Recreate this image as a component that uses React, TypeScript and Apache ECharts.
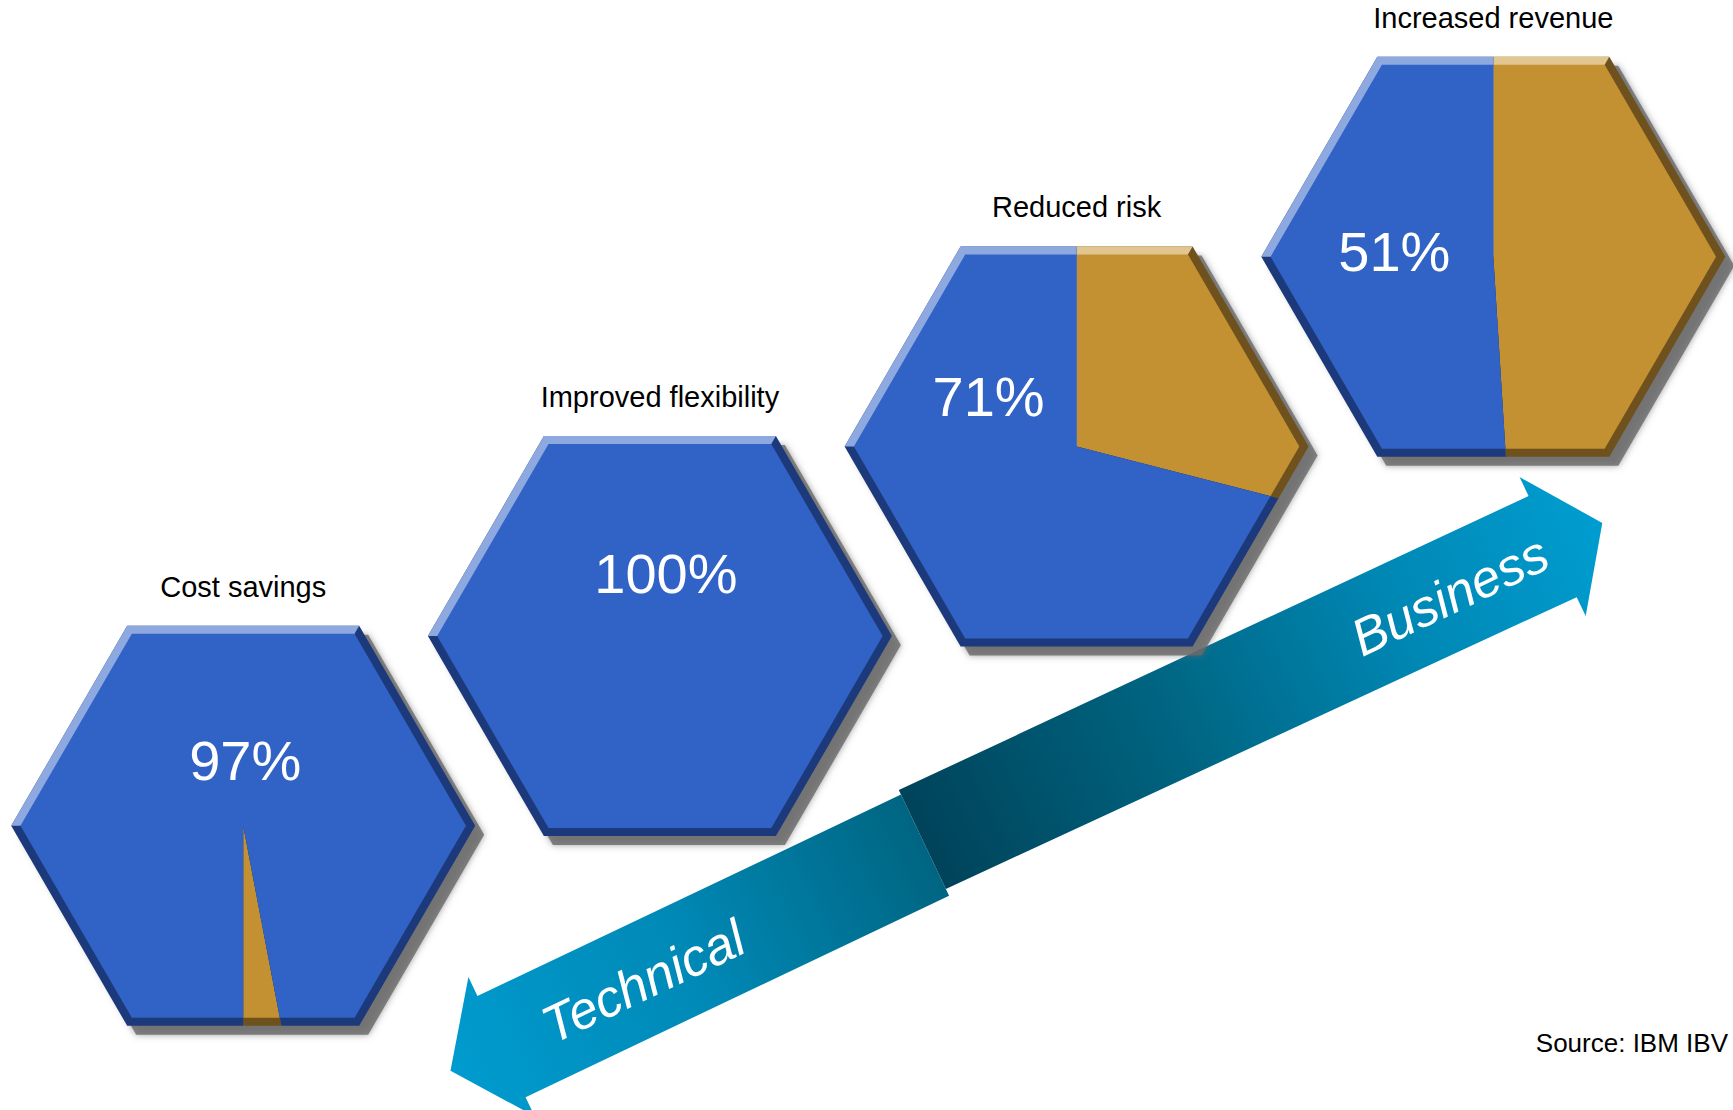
import React, { useEffect, useRef } from 'react';
import * as echarts from 'echarts';

// ---- data ----
const categories = ['Cost savings', 'Improved flexibility', 'Reduced risk', 'Increased revenue'];
const bluePct = [97, 100, 71, 51];
const orangePct = [3, 0, 29, 49];

// ---- layout / style ----
const START_ANGLES = [169.2, 0, 0, 0]; // clock angle (deg, clockwise from 12 o'clock) where the orange slice begins
const LABEL_OFFSETS = [[2, -65], [6, -63], [-88, -50], [-99, -5]];
const HEX_R = 232;
const HEX_H = 200;
const BEVEL = 8;
const FONT = '"Liberation Sans", Arial, Helvetica, sans-serif';
const SLICE_STYLES = [
  { main: '#C39132', dark: '#6E511D', light: '#E2C690' }, // orange
  { main: '#3162C6', dark: '#1C3A7B', light: '#8EA8E0' }, // blue
];

function hexPts(cx: number, cy: number, r: number, h: number): number[][] {
  return [
    [cx + r / 2, cy - h],
    [cx + r, cy],
    [cx + r / 2, cy + h],
    [cx - r / 2, cy + h],
    [cx - r, cy],
    [cx - r / 2, cy - h],
  ];
}

function rayHit(cx: number, cy: number, ang: number, poly: number[][]): number[] {
  const rad = (ang * Math.PI) / 180;
  const dx = Math.sin(rad);
  const dy = -Math.cos(rad);
  let best: number[] = [cx, cy];
  let bestT = Infinity;
  for (let k = 0; k < poly.length; k++) {
    const P = poly[k];
    const Q = poly[(k + 1) % poly.length];
    const ex = Q[0] - P[0];
    const ey = Q[1] - P[1];
    const det = -dx * ey + ex * dy;
    if (Math.abs(det) < 1e-9) continue;
    const px = P[0] - cx;
    const py = P[1] - cy;
    const t = (-px * ey + ex * py) / det;
    const s = (dx * py - dy * px) / det;
    if (t > 1e-9 && s >= -1e-6 && s <= 1 + 1e-6 && t < bestT) {
      bestT = t;
      best = [cx + dx * t, cy + dy * t];
    }
  }
  return best;
}

function starSlice(poly: number[][], cx: number, cy: number, a0: number, a1: number): number[][] {
  if (a1 - a0 >= 359.99) return poly.map((p) => [p[0], p[1]]);
  const pts: number[][] = [[cx, cy], rayHit(cx, cy, a0, poly)];
  const vs: { b: number; v: number[] }[] = [];
  for (const v of poly) {
    let a = (Math.atan2(v[0] - cx, -(v[1] - cy)) * 180) / Math.PI;
    a = ((a % 360) + 360) % 360;
    for (let k = -1; k <= 2; k++) {
      const b = a + 360 * k;
      if (b > a0 + 1e-6 && b < a1 - 1e-6) vs.push({ b, v });
    }
  }
  vs.sort((x, y) => x.b - y.b);
  vs.forEach((o) => pts.push([o.v[0], o.v[1]]));
  pts.push(rayHit(cx, cy, a1, poly));
  return pts;
}

const LIGHT_LO = 270;
const LIGHT_HI = 360 + (Math.atan2(HEX_R / 2, HEX_H) * 180) / Math.PI;

function lightRanges(a0: number, a1: number): number[][] {
  if (a1 - a0 >= 359.99) return [[LIGHT_LO, LIGHT_HI]];
  const out: number[][] = [];
  for (let kk = -1; kk <= 1; kk++) {
    const lo = Math.max(a0, LIGHT_LO + 360 * kk);
    const hi = Math.min(a1, LIGHT_HI + 360 * kk);
    if (hi - lo > 0.01) out.push([lo, hi]);
  }
  return out;
}

function renderItem(params: any, api: any) {
  const i = params.dataIndex;
  const c = api.coord([api.value(0), api.value(1)]);
  const cx = c[0];
  const cy = c[1];
  const outer = hexPts(cx, cy, HEX_R, HEX_H);
  const k = (HEX_H - BEVEL) / HEX_H;
  const inner = hexPts(cx, cy, HEX_R * k, HEX_H * k);
  const shadow = hexPts(cx + 9, cy + 9, HEX_R, HEX_H);
  const children: any[] = [
    {
      type: 'polygon',
      shape: { points: shadow },
      style: { fill: 'rgba(105,105,105,0.8)', shadowBlur: 7, shadowColor: 'rgba(105,105,105,0.8)' },
      silent: true,
    },
  ];
  const vals = [api.value(3), api.value(2)]; // orange, blue
  let a = START_ANGLES[i];
  vals.forEach((v: number, si: number) => {
    if (!v) return;
    const a0 = a;
    const a1 = a + v * 3.6;
    a = a1;
    const st = SLICE_STYLES[si];
    children.push({ type: 'polygon', shape: { points: starSlice(outer, cx, cy, a0, a1) }, style: { fill: st.dark }, silent: true });
    lightRanges(a0, a1).forEach(([lo, hi]) => {
      children.push({ type: 'polygon', shape: { points: starSlice(outer, cx, cy, lo, hi) }, style: { fill: st.light }, silent: true });
    });
    children.push({ type: 'polygon', shape: { points: starSlice(inner, cx, cy, a0, a1) }, style: { fill: st.main }, silent: true });
  });
  const off = LABEL_OFFSETS[i];
  children.push({
    type: 'text',
    x: cx + off[0],
    y: cy + off[1],
    style: {
      text: api.value(2) + '%',
      fill: '#ffffff',
      fontSize: 56,
      fontFamily: FONT,
      align: 'center',
      verticalAlign: 'middle',
      textAlign: 'center',
      textVerticalAlign: 'middle',
    },
    silent: true,
  });
  children.push({
    type: 'text',
    x: cx,
    y: cy - 239,
    style: {
      text: categories[i],
      fill: '#000000',
      fontSize: 29,
      fontFamily: FONT,
      align: 'center',
      verticalAlign: 'middle',
      textAlign: 'center',
      textVerticalAlign: 'middle',
    },
    silent: true,
  });
  return { type: 'group', children };
}

// ---- decorative arrow ----
const ARROW_ORIGIN = [501.5, 1046.6];
const ARROW_ANGLE = 25.44;
function ap(t: number, s: number): number[] {
  const r = (ARROW_ANGLE * Math.PI) / 180;
  const ux = Math.cos(r);
  const uy = -Math.sin(r);
  const nx = Math.sin(r);
  const ny = Math.cos(r);
  return [ARROW_ORIGIN[0] + t * ux + s * nx, ARROW_ORIGIN[1] + t * uy + s * ny];
}

function gradient(t0: number, t1: number, stops: [number, string][]) {
  const p0 = ap(t0, 0);
  const p1 = ap(t1, 0);
  return {
    type: 'linear',
    x: p0[0],
    y: p0[1],
    x2: p1[0],
    y2: p1[1],
    global: true,
    colorStops: stops.map(([offset, color]) => ({ offset, color })),
  };
}

export default function App() {
  const ref = useRef<HTMLDivElement>(null);
  useEffect(() => {
    if (!ref.current) return;
    const chart = echarts.init(ref.current, undefined, { renderer: 'svg' });
    const data = categories.map((_, i) => [i, i, bluePct[i], orangePct[i]]);
    const rot = (ARROW_ANGLE * Math.PI) / 180;
    const tech = ap(156, 2);
    const bus = ap(1050, 0);
    chart.setOption({
      animation: false,
      backgroundColor: '#ffffff',
      grid: { left: 34.85, right: 31.35, top: 161.85, bottom: 189.35, containLabel: false },
      xAxis: { type: 'category', data: categories, show: false, boundaryGap: true },
      yAxis: { type: 'category', data: categories, show: false, boundaryGap: true },
      graphic: [
        {
          type: 'polygon',
          z: 0,
          shape: {
            points: [ap(469, -56), ap(0, -56), ap(0, -77), ap(-56.5, 0), ap(0, 77), ap(0, 56), ap(469, 56)],
          },
          style: {
            fill: gradient(-56, 469, [
              [0, '#009BCF'],
              [0.5, '#0089B6'],
              [1, '#006582'],
            ]),
          },
        },
        {
          type: 'polygon',
          z: 0,
          shape: {
            points: [ap(469, -61), ap(1164, -56), ap(1164, -77), ap(1219, 0), ap(1164, 77), ap(1164, 56), ap(469, 48.5)],
          },
          style: {
            fill: gradient(469, 1219, [
              [0, '#00435A'],
              [0.35, '#00637F'],
              [0.7, '#0087B4'],
              [1, '#009DD0'],
            ]),
          },
        },
        {
          type: 'text',
          z: 1,
          x: tech[0],
          y: tech[1],
          rotation: rot,
          style: {
            text: 'Technical',
            fill: '#ffffff',
            fontSize: 52,
            fontStyle: 'italic',
            fontFamily: FONT,
            align: 'center',
            verticalAlign: 'middle',
            textAlign: 'center',
            textVerticalAlign: 'middle',
          },
        },
        {
          type: 'text',
          z: 1,
          x: bus[0],
          y: bus[1],
          rotation: rot,
          style: {
            text: 'Business',
            fill: '#ffffff',
            fontSize: 52,
            fontStyle: 'italic',
            fontFamily: FONT,
            align: 'center',
            verticalAlign: 'middle',
            textAlign: 'center',
            textVerticalAlign: 'middle',
          },
        },
        {
          type: 'text',
          z: 1,
          x: 1728,
          y: 1043,
          style: {
            text: 'Source: IBM IBV',
            fill: '#000000',
            fontSize: 26,
            fontFamily: FONT,
            align: 'right',
            verticalAlign: 'middle',
            textAlign: 'right',
            textVerticalAlign: 'middle',
          },
        },
      ],
      series: [
        {
          type: 'custom',
          coordinateSystem: 'cartesian2d',
          renderItem,
          data,
          encode: { x: 0, y: 1 },
          clip: false,
          silent: true,
          z: 5,
        },
      ],
    });
    return () => chart.dispose();
  }, []);
  return (
    <div
      ref={ref}
      style={{ position: 'fixed', left: 0, top: 0, width: 1733, height: 1110, background: '#fff' }}
    />
  );
}
